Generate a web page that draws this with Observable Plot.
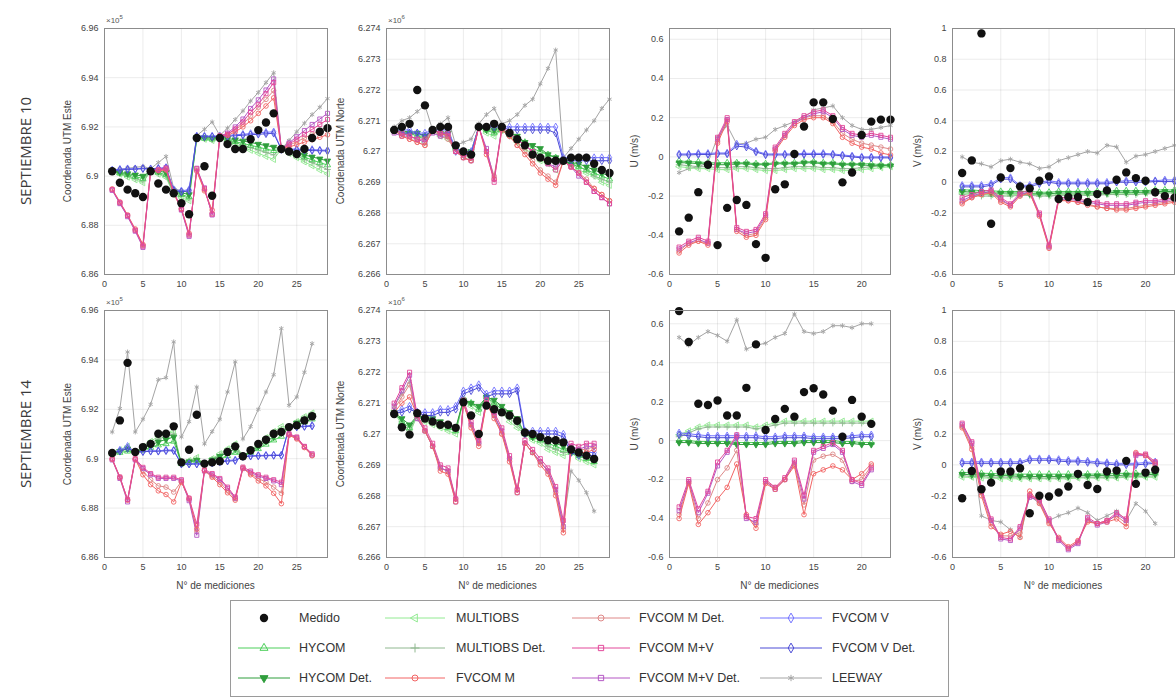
<!DOCTYPE html>
<html><head><meta charset="utf-8">
<script src="https://cdn.jsdelivr.net/npm/d3@7"></script>
<script src="https://cdn.jsdelivr.net/npm/@observablehq/plot@0.6"></script>
<style>
body{margin:0;background:#fff;font-family:"Liberation Sans",Arial,sans-serif;}
#root{position:relative;width:1176px;height:698px;overflow:hidden;background:#fff;}
.ylab{position:absolute;transform:translate(-50%,-50%) rotate(-90deg);white-space:nowrap;font-size:10px;color:#444;}
.xlab{position:absolute;transform:translate(-50%,-50%);white-space:nowrap;font-size:10px;color:#444;}
.rowlab{position:absolute;transform:translate(-50%,-50%) rotate(-90deg);white-space:nowrap;font-size:15px;color:#3a3a3a;font-family:"Open Sans",sans-serif;}
.exp{position:absolute;font-size:8px;color:#555;white-space:nowrap;}
.exp sup{font-size:6px;}
</style></head><body><div id="root"></div>
<script>
// ---------- series names ----------
const SERIES = ["Medido","HYCOM","HYCOM Det.","MULTIOBS","MULTIOBS Det.","FVCOM M","FVCOM M Det.","FVCOM M+V","FVCOM M+V Det.","FVCOM V","FVCOM V Det.","LEEWAY"];

// ---------- tick labels ----------
const tickEste = [6.86,6.88,6.9,6.92,6.94,6.96];
const tickNorte = [6.266,6.267,6.268,6.269,6.27,6.271,6.272,6.273,6.274];
const tickU = [-0.6,-0.4,-0.2,0,0.2,0.4,0.6];
const tickV = [-0.6,-0.4,-0.2,0,0.2,0.4,0.6,0.8,1];
const tickN29 = [0,5,10,15,20,25];
const tickN23 = [0,5,10,15,20];

// ---------- SEPTIEMBRE 10 : Este (x10^5) ----------
const este10Medido = [6.902,6.8973,6.8945,6.893,6.8915,6.902,6.897,6.8945,6.893,6.889,6.8845,6.9155,6.904,6.892,6.9155,6.913,6.911,6.911,6.915,6.9187,6.9218,6.9255,6.911,6.91,6.909,6.911,6.9155,6.918,6.9195];
const este10Hycom = [6.902,6.9012,6.9005,6.8998,6.899,6.902,6.9015,6.9005,6.8935,6.8925,6.8915,6.9155,6.9153,6.915,6.9155,6.9148,6.914,6.9133,6.9125,6.9118,6.911,6.9103,6.911,6.9098,6.9088,6.9077,6.9066,6.9055,6.9045];
const este10HycomDet = [6.902,6.9015,6.901,6.9005,6.9,6.902,6.902,6.9015,6.894,6.8932,6.8925,6.9158,6.9157,6.9155,6.9158,6.9153,6.9148,6.9143,6.9137,6.913,6.9124,6.9118,6.911,6.9102,6.9094,6.9086,6.9078,6.907,6.9062];
const este10Multi = [6.902,6.9008,6.8996,6.8985,6.8973,6.902,6.9008,6.8995,6.8925,6.8912,6.89,6.9155,6.915,6.9145,6.9155,6.9143,6.913,6.9118,6.9105,6.9093,6.908,6.9068,6.911,6.9092,6.9075,6.9058,6.9042,6.9025,6.901];
const este10MultiDet = [6.902,6.901,6.9,6.899,6.898,6.902,6.901,6.9,6.893,6.892,6.891,6.9155,6.9152,6.9148,6.9155,6.9146,6.9136,6.9126,6.9116,6.9106,6.9096,6.9086,6.911,6.9096,6.9082,6.9068,6.9055,6.9041,6.9027];
const este10M = [6.8948,6.8895,6.8842,6.8785,6.8722,6.902,6.9022,6.9025,6.8928,6.8868,6.8768,6.902,6.894,6.8862,6.9163,6.9165,6.918,6.92,6.9225,6.9255,6.9285,6.9318,6.911,6.9118,6.9128,6.9138,6.9148,6.9158,6.9168];
const este10MDet = [6.8945,6.889,6.8838,6.878,6.8718,6.902,6.9024,6.9028,6.8932,6.8865,6.8762,6.9025,6.8945,6.8848,6.9163,6.917,6.9188,6.921,6.9245,6.928,6.9312,6.9348,6.911,6.9125,6.914,6.9155,6.917,6.9185,6.92];
const este10MV = [6.8945,6.8892,6.884,6.878,6.8715,6.902,6.9025,6.903,6.8935,6.8865,6.876,6.903,6.895,6.8845,6.9163,6.917,6.9192,6.922,6.926,6.929,6.9335,6.938,6.911,6.913,6.915,6.917,6.919,6.921,6.923];
const este10MVDet = [6.8942,6.8888,6.8835,6.8776,6.871,6.902,6.9028,6.9035,6.8938,6.8862,6.8755,6.9032,6.8952,6.8842,6.9163,6.9175,6.92,6.9232,6.9275,6.931,6.935,6.9395,6.911,6.9135,6.916,6.9185,6.921,6.9232,6.9255];
const este10V = [6.9025,6.9028,6.903,6.903,6.9032,6.903,6.9032,6.9035,6.8945,6.894,6.8945,6.9163,6.9163,6.9163,6.9163,6.9165,6.9168,6.917,6.9173,6.9176,6.9178,6.918,6.911,6.911,6.911,6.9108,6.9108,6.9106,6.9105];
const este10VDet = [6.9022,6.9025,6.9027,6.9028,6.903,6.9028,6.903,6.9032,6.8942,6.8936,6.894,6.9161,6.916,6.916,6.9161,6.9162,6.9164,6.9166,6.9168,6.917,6.9172,6.9174,6.9108,6.9107,6.9106,6.9105,6.9104,6.9103,6.9102];
const este10Leeway = [6.9025,6.9028,6.9032,6.9035,6.904,6.903,6.9055,6.908,6.895,6.894,6.8935,6.9165,6.919,6.922,6.9165,6.9195,6.923,6.9265,6.9305,6.934,6.938,6.942,6.911,6.9145,6.918,6.9215,6.925,6.928,6.9315];

// ---------- SEPTIEMBRE 10 : Norte (x10^6) ----------
const norte10Medido = [6.2707,6.2708,6.2709,6.272,6.2715,6.2707,6.2708,6.2708,6.2702,6.27,6.2699,6.2708,6.2708,6.2709,6.2708,6.2706,6.2704,6.2702,6.2699,6.2698,6.2697,6.2697,6.2697,6.2698,6.2698,6.2698,6.2696,6.2694,6.2693];
const norte10Hycom = [6.2707,6.2706,6.2706,6.2705,6.2705,6.2707,6.2706,6.2705,6.2701,6.27,6.2699,6.2708,6.2707,6.2706,6.2707,6.2706,6.2704,6.2703,6.2701,6.27,6.2699,6.2698,6.2697,6.2696,6.2695,6.2694,6.2693,6.2692,6.2691];
const norte10HycomDet = [6.2707,6.2707,6.2706,6.2706,6.2705,6.2707,6.2706,6.2706,6.2701,6.27,6.27,6.2708,6.2707,6.2707,6.2707,6.2706,6.2705,6.2703,6.2702,6.2701,6.2699,6.2698,6.2697,6.2696,6.2696,6.2695,6.2694,6.2693,6.2692];
const norte10Multi = [6.2707,6.2706,6.2705,6.2704,6.2703,6.2707,6.2705,6.2704,6.2701,6.2699,6.2698,6.2708,6.2706,6.2705,6.2707,6.2705,6.2703,6.2701,6.2699,6.2697,6.2696,6.2694,6.2697,6.2696,6.2694,6.2693,6.2692,6.269,6.2689];
const norte10MultiDet = [6.2707,6.2706,6.2706,6.2705,6.2704,6.2707,6.2706,6.2705,6.2701,6.27,6.2699,6.2708,6.2707,6.2706,6.2707,6.2705,6.2704,6.2702,6.27,6.2698,6.2697,6.2696,6.2697,6.2696,6.2695,6.2694,6.2692,6.2691,6.269];
const norte10M = [6.2707,6.2705,6.2704,6.2703,6.2702,6.2707,6.2706,6.2705,6.27,6.2698,6.2697,6.2708,6.2699,6.2691,6.2707,6.2705,6.2702,6.2699,6.2696,6.2693,6.2691,6.2689,6.2697,6.2695,6.2693,6.269,6.2688,6.2686,6.2684];
const norte10MDet = [6.2707,6.2705,6.2704,6.2703,6.2702,6.2707,6.2705,6.2704,6.27,6.2698,6.2697,6.2708,6.27,6.2692,6.2707,6.2705,6.2702,6.27,6.2697,6.2694,6.2692,6.269,6.2697,6.2695,6.2693,6.2691,6.2688,6.2686,6.2684];
const norte10MV = [6.2707,6.2706,6.2705,6.2704,6.2704,6.2707,6.2706,6.2706,6.27,6.2699,6.2698,6.2708,6.27,6.269,6.2708,6.2706,6.2704,6.2702,6.27,6.2698,6.2696,6.2694,6.2697,6.2695,6.2693,6.269,6.2687,6.2685,6.2683];
const norte10MVDet = [6.2706,6.2705,6.2705,6.2704,6.2703,6.2706,6.2705,6.2705,6.27,6.2698,6.2697,6.2708,6.2701,6.2691,6.2708,6.2706,6.2704,6.2702,6.27,6.2698,6.2696,6.2695,6.2697,6.2695,6.2692,6.269,6.2687,6.2685,6.2683];
const norte10V = [6.2707,6.2707,6.2707,6.2706,6.2706,6.2707,6.2707,6.2707,6.2701,6.27,6.27,6.2708,6.2708,6.2709,6.2708,6.2708,6.2708,6.2708,6.2708,6.2708,6.2708,6.2708,6.2698,6.2698,6.2698,6.2698,6.2698,6.2698,6.2698];
const norte10VDet = [6.2707,6.2706,6.2706,6.2706,6.2705,6.2707,6.2706,6.2706,6.27,6.2699,6.2699,6.2708,6.2708,6.2708,6.2708,6.2707,6.2707,6.2707,6.2707,6.2707,6.2707,6.2706,6.2697,6.2697,6.2697,6.2697,6.2697,6.2697,6.2697];
const norte10Leeway = [6.2708,6.271,6.2711,6.2713,6.2715,6.2707,6.2709,6.2711,6.2702,6.2703,6.2704,6.2709,6.2712,6.2714,6.2709,6.271,6.2712,6.2715,6.2717,6.2722,6.2727,6.2733,6.2698,6.2701,6.2704,6.2707,6.271,6.2714,6.2717];

// ---------- SEPTIEMBRE 10 : U (m/s) ----------
const u10Medido = [-0.38,-0.31,-0.18,-0.04,-0.45,-0.26,-0.22,-0.245,-0.445,-0.515,-0.165,-0.14,0.015,0.155,0.278,0.278,0.193,-0.13,-0.08,0.112,0.18,0.19,0.19];
const u10Hycom = [-0.02,-0.025,-0.025,-0.03,-0.03,-0.03,-0.03,-0.03,-0.035,-0.035,-0.03,-0.03,-0.03,-0.025,-0.025,-0.03,-0.03,-0.035,-0.035,-0.035,-0.035,-0.04,-0.04];
const u10HycomDet = [-0.03,-0.03,-0.035,-0.035,-0.04,-0.04,-0.035,-0.035,-0.04,-0.04,-0.035,-0.035,-0.035,-0.03,-0.03,-0.035,-0.035,-0.04,-0.04,-0.04,-0.045,-0.045,-0.045];
const u10Multi = [-0.05,-0.055,-0.06,-0.06,-0.065,-0.065,-0.06,-0.06,-0.065,-0.07,-0.07,-0.065,-0.06,-0.06,-0.06,-0.065,-0.065,-0.07,-0.07,-0.065,-0.06,-0.055,-0.05];
const u10MultiDet = [-0.04,-0.045,-0.05,-0.05,-0.055,-0.055,-0.05,-0.05,-0.055,-0.06,-0.06,-0.055,-0.05,-0.05,-0.05,-0.055,-0.055,-0.06,-0.06,-0.055,-0.05,-0.045,-0.04];
const u10M = [-0.49,-0.45,-0.43,-0.45,0.07,0.18,-0.38,-0.41,-0.4,-0.32,0.03,0.1,0.16,0.19,0.2,0.2,0.17,0.1,0.07,0.05,0.04,0.02,0.01];
const u10MDet = [-0.48,-0.44,-0.43,-0.44,0.08,0.19,-0.37,-0.4,-0.39,-0.31,0.04,0.11,0.17,0.2,0.21,0.21,0.18,0.12,0.09,0.07,0.06,0.05,0.04];
const u10MV = [-0.46,-0.43,-0.41,-0.43,0.1,0.2,-0.36,-0.38,-0.37,-0.29,0.05,0.12,0.18,0.21,0.23,0.24,0.21,0.15,0.12,0.11,0.12,0.11,0.1];
const u10MVDet = [-0.47,-0.44,-0.42,-0.44,0.09,0.19,-0.37,-0.39,-0.38,-0.3,0.04,0.11,0.17,0.2,0.22,0.23,0.2,0.14,0.11,0.1,0.11,0.1,0.09];
const u10V = [0.015,0.015,0.018,0.018,0.02,0.02,0.065,0.06,0.03,0.015,0.015,0.015,0.015,0.018,0.018,0.018,0.015,0.01,0.005,0,0,0,0];
const u10VDet = [0.01,0.01,0.012,0.012,0.015,0.015,0.055,0.05,0.025,0.01,0.01,0.01,0.01,0.012,0.012,0.012,0.01,0.005,0,-0.005,-0.005,-0.005,-0.005];
const u10Leeway = [-0.08,-0.06,-0.05,-0.03,0.1,0.16,0.065,0.07,0.09,0.1,0.14,0.16,0.18,0.2,0.24,0.25,0.26,0.2,0.16,0.14,0.14,0.15,0.16];

// ---------- SEPTIEMBRE 10 : V (m/s) ----------
const v10Medido = [0.06,0.142,0.968,-0.27,0.031,0.092,-0.027,-0.04,0.01,0.038,-0.109,-0.096,-0.096,-0.129,-0.077,-0.053,0.016,0.064,0.027,0.01,-0.065,-0.09,-0.1];
const v10Hycom = [-0.05,-0.05,-0.055,-0.055,-0.06,-0.06,-0.06,-0.06,-0.065,-0.065,-0.06,-0.06,-0.06,-0.06,-0.06,-0.06,-0.055,-0.055,-0.055,-0.055,-0.05,-0.05,-0.05];
const v10HycomDet = [-0.06,-0.065,-0.065,-0.07,-0.07,-0.07,-0.07,-0.075,-0.075,-0.075,-0.07,-0.07,-0.07,-0.07,-0.07,-0.07,-0.065,-0.065,-0.065,-0.065,-0.06,-0.06,-0.06];
const v10Multi = [-0.07,-0.075,-0.08,-0.08,-0.085,-0.08,-0.08,-0.08,-0.08,-0.085,-0.08,-0.08,-0.08,-0.08,-0.08,-0.075,-0.075,-0.075,-0.07,-0.07,-0.07,-0.065,-0.065];
const v10MultiDet = [-0.08,-0.085,-0.09,-0.09,-0.09,-0.09,-0.085,-0.085,-0.09,-0.09,-0.085,-0.085,-0.085,-0.085,-0.085,-0.08,-0.08,-0.08,-0.08,-0.075,-0.075,-0.07,-0.07];
const v10M = [-0.14,-0.1,-0.08,-0.07,-0.13,-0.16,-0.09,-0.07,-0.22,-0.43,-0.12,-0.12,-0.13,-0.15,-0.16,-0.17,-0.18,-0.18,-0.17,-0.16,-0.15,-0.14,-0.13];
const v10MDet = [-0.13,-0.1,-0.08,-0.06,-0.12,-0.15,-0.08,-0.07,-0.21,-0.42,-0.11,-0.12,-0.13,-0.14,-0.16,-0.17,-0.17,-0.17,-0.16,-0.15,-0.14,-0.13,-0.12];
const v10MV = [-0.1,-0.08,-0.06,-0.05,-0.1,-0.14,-0.07,-0.05,-0.2,-0.41,-0.1,-0.1,-0.11,-0.12,-0.13,-0.14,-0.14,-0.14,-0.13,-0.12,-0.12,-0.11,-0.1];
const v10MVDet = [-0.12,-0.09,-0.07,-0.06,-0.11,-0.15,-0.08,-0.06,-0.21,-0.42,-0.11,-0.11,-0.12,-0.13,-0.14,-0.15,-0.15,-0.15,-0.14,-0.13,-0.13,-0.12,-0.11];
const v10V = [-0.02,-0.02,-0.02,-0.01,0.03,0.03,-0.02,-0.02,0,0.01,0,0,0,0,0,0,0.005,0.01,0.01,0.01,0.01,0.015,0.015];
const v10VDet = [-0.03,-0.03,-0.03,-0.02,0.02,0.02,-0.03,-0.03,-0.01,0,-0.01,-0.01,-0.01,-0.01,-0.01,-0.01,0,0,0,0,0.005,0.005,0.005];
const v10Leeway = [0.165,0.13,0.12,0.1,0.14,0.15,0.13,0.12,0.09,0.1,0.14,0.16,0.18,0.2,0.19,0.24,0.23,0.13,0.17,0.18,0.2,0.22,0.24];

// ---------- SEPTIEMBRE 14 : Este (x10^5) ----------
const este14Medido = [6.9023,6.9155,6.9388,6.9027,6.9047,6.906,6.9101,6.9101,6.9131,6.8985,6.9036,6.9178,6.898,6.8985,6.899,6.9027,6.905,6.901,6.9034,6.906,6.9077,6.9101,6.9108,6.9128,6.9135,6.9155,6.9172];
const este14Hycom = [6.902,6.9025,6.903,6.9027,6.9035,6.9045,6.9055,6.906,6.907,6.898,6.8985,6.899,6.898,6.899,6.9,6.9012,6.9025,6.901,6.9025,6.904,6.9058,6.9075,6.909,6.9128,6.9138,6.9148,6.916];
const este14HycomDet = [6.902,6.903,6.904,6.9027,6.904,6.9055,6.9068,6.9078,6.9088,6.8982,6.8988,6.8994,6.898,6.8995,6.901,6.9025,6.904,6.901,6.903,6.905,6.907,6.9088,6.9105,6.9128,6.9145,6.916,6.9175];
const este14Multi = [6.902,6.9035,6.905,6.9027,6.905,6.907,6.909,6.91,6.911,6.898,6.8992,6.9005,6.898,6.9,6.902,6.904,6.906,6.901,6.9035,6.906,6.9085,6.911,6.913,6.9128,6.915,6.917,6.9185];
const este14MultiDet = [6.902,6.903,6.9042,6.9027,6.9045,6.9062,6.908,6.909,6.91,6.898,6.899,6.9,6.898,6.8997,6.9015,6.9032,6.905,6.901,6.9032,6.9055,6.9078,6.91,6.912,6.9128,6.9148,6.9165,6.918];
const este14M = [6.8998,6.8924,6.8832,6.8998,6.8935,6.8895,6.887,6.8855,6.8825,6.8905,6.884,6.8715,6.8952,6.8925,6.8895,6.8862,6.8832,6.8962,6.8935,6.891,6.889,6.886,6.8818,6.9095,6.908,6.9045,6.9012];
const este14MDet = [6.8998,6.8925,6.8834,6.8998,6.895,6.8915,6.889,6.8885,6.8865,6.8908,6.8835,6.8705,6.8953,6.893,6.8905,6.887,6.8838,6.8963,6.894,6.892,6.8905,6.8885,6.886,6.9097,6.9083,6.9048,6.9015];
const este14MV = [6.9,6.8926,6.8835,6.9,6.8965,6.894,6.8925,6.8925,6.8925,6.8915,6.884,6.8735,6.8955,6.894,6.892,6.8885,6.8845,6.8966,6.895,6.8935,6.8925,6.8915,6.8905,6.9101,6.9088,6.905,6.902];
const este14MVDet = [6.8995,6.892,6.8825,6.8995,6.896,6.8935,6.892,6.892,6.892,6.891,6.883,6.869,6.895,6.8935,6.8915,6.888,6.884,6.896,6.8945,6.893,6.892,6.891,6.8895,6.9098,6.9085,6.9048,6.9015];
const este14V = [6.9023,6.9035,6.905,6.9027,6.903,6.9032,6.9032,6.9035,6.9035,6.898,6.898,6.898,6.898,6.8985,6.899,6.8993,6.8995,6.901,6.9012,6.9013,6.9014,6.9015,6.9015,6.9128,6.913,6.9132,6.9135];
const este14VDet = [6.9023,6.903,6.9042,6.9027,6.9028,6.903,6.903,6.9032,6.9032,6.8978,6.8978,6.8978,6.8978,6.8982,6.8986,6.899,6.8992,6.9008,6.901,6.9011,6.9012,6.9013,6.9013,6.9126,6.9128,6.913,6.9132];
const este14Leeway = [6.9108,6.9203,6.9432,6.9108,6.916,6.922,6.932,6.9328,6.9473,6.9088,6.915,6.929,6.906,6.911,6.916,6.927,6.9392,6.908,6.913,6.92,6.927,6.934,6.9527,6.9216,6.925,6.935,6.9466];

// ---------- SEPTIEMBRE 14 : Norte (x10^6) ----------
const norte14Medido = [6.27065,6.27022,6.26998,6.27067,6.2705,6.2704,6.2703,6.2703,6.2702,6.27103,6.2706,6.27,6.27092,6.2708,6.2707,6.2706,6.27043,6.27005,6.27,6.2699,6.2698,6.2698,6.26973,6.2695,6.2694,6.2693,6.26919];
const norte14Hycom = [6.2707,6.2704,6.2702,6.2706,6.2705,6.2704,6.2703,6.2702,6.2701,6.2711,6.271,6.2708,6.2712,6.271,6.2708,6.2706,6.2704,6.27,6.2699,6.2698,6.2697,6.2696,6.2695,6.2694,6.2693,6.2692,6.2691];
const norte14HycomDet = [6.2707,6.2705,6.2703,6.2706,6.2705,6.2705,6.2704,6.2703,6.2702,6.2711,6.271,6.2709,6.2712,6.2711,6.2709,6.2707,6.2705,6.27,6.2699,6.2699,6.2698,6.2697,6.2696,6.2694,6.2694,6.2693,6.2692];
const norte14Multi = [6.2707,6.2703,6.27,6.2706,6.2704,6.2703,6.2702,6.2701,6.27,6.2711,6.2709,6.2707,6.2712,6.2709,6.2707,6.2704,6.2702,6.27,6.2698,6.2697,6.2695,6.2694,6.2693,6.2694,6.2692,6.2691,6.269];
const norte14MultiDet = [6.2707,6.2704,6.2701,6.2706,6.2705,6.2704,6.2703,6.2702,6.2701,6.2711,6.271,6.2708,6.2712,6.271,6.2708,6.2705,6.2703,6.27,6.2699,6.2698,6.2696,6.2695,6.2694,6.2694,6.2693,6.2692,6.2691];
const norte14M = [6.2707,6.271,6.2712,6.2706,6.2701,6.2696,6.2688,6.2687,6.2678,6.271,6.2702,6.2696,6.271,6.2705,6.27,6.2691,6.2681,6.2697,6.2694,6.269,6.2687,6.268,6.2668,6.2695,6.2694,6.2694,6.2695];
const norte14MDet = [6.2708,6.2712,6.2716,6.2705,6.2701,6.2696,6.2689,6.2688,6.2679,6.271,6.2703,6.2697,6.271,6.2706,6.27,6.2692,6.2682,6.2697,6.2694,6.2691,6.2688,6.2681,6.2669,6.2696,6.2695,6.2695,6.2696];
const norte14MV = [6.271,6.2715,6.272,6.2706,6.2702,6.2697,6.269,6.2689,6.2679,6.2711,6.2704,6.2698,6.2711,6.2707,6.2702,6.2693,6.2682,6.2698,6.2695,6.2692,6.2689,6.2683,6.2672,6.2697,6.2696,6.2697,6.2697];
const norte14MVDet = [6.2709,6.2714,6.2719,6.2705,6.2701,6.2696,6.2689,6.2688,6.2678,6.271,6.2703,6.2697,6.2711,6.2706,6.2701,6.2692,6.2681,6.2697,6.2694,6.2691,6.2688,6.2682,6.267,6.2696,6.2695,6.2696,6.2696];
const norte14V = [6.2707,6.2708,6.2709,6.2707,6.2707,6.2707,6.2708,6.2708,6.2709,6.2714,6.2715,6.2716,6.2713,6.2714,6.2714,6.2714,6.2715,6.2701,6.2701,6.2701,6.2701,6.2701,6.27,6.2695,6.2694,6.2694,6.2694];
const norte14VDet = [6.2707,6.2707,6.2708,6.2707,6.2706,6.2706,6.2707,6.2707,6.2708,6.2713,6.2714,6.2715,6.2712,6.2713,6.2713,6.2713,6.2714,6.27,6.27,6.27,6.27,6.27,6.2699,6.2694,6.2693,6.2693,6.2693];
const norte14Leeway = [6.2709,6.2713,6.2717,6.2705,6.2701,6.2696,6.2689,6.2688,6.2679,6.271,6.2703,6.2697,6.2711,6.2706,6.2701,6.2692,6.2682,6.2697,6.2694,6.2691,6.2688,6.2682,6.2671,6.2688,6.2685,6.2681,6.2675];

// ---------- SEPTIEMBRE 14 : U (m/s) ----------
const u14Medido = [0.665,0.506,0.189,0.183,0.206,0.129,0.129,0.271,0.494,0.055,0.111,0.163,0.123,0.249,0.269,0.237,0.154,0.02,0.209,0.123,0.086];
const u14Hycom = [0,0,-0.005,-0.005,-0.005,-0.005,-0.01,-0.01,-0.01,-0.01,-0.005,-0.005,-0.005,0,0,0,0,-0.005,-0.005,-0.01,-0.01];
const u14HycomDet = [-0.01,-0.01,-0.015,-0.015,-0.015,-0.015,-0.02,-0.02,-0.02,-0.02,-0.015,-0.015,-0.015,-0.01,-0.01,-0.01,-0.01,-0.015,-0.015,-0.02,-0.02];
const u14Multi = [0.03,0.05,0.07,0.08,0.08,0.08,0.08,0.08,0.07,0.08,0.09,0.1,0.1,0.1,0.1,0.1,0.1,0.1,0.1,0.1,0.1];
const u14MultiDet = [0.02,0.04,0.06,0.07,0.07,0.07,0.07,0.07,0.06,0.07,0.08,0.09,0.09,0.09,0.09,0.09,0.09,0.09,0.09,0.09,0.09];
const u14M = [-0.4,-0.22,-0.43,-0.37,-0.3,-0.24,-0.12,-0.38,-0.45,-0.22,-0.25,-0.2,-0.13,-0.38,-0.17,-0.15,-0.13,-0.15,-0.2,-0.17,-0.12];
const u14MDet = [-0.38,-0.21,-0.4,-0.32,-0.2,-0.14,-0.05,-0.39,-0.43,-0.21,-0.24,-0.2,-0.12,-0.33,-0.1,-0.08,-0.07,-0.1,-0.21,-0.2,-0.13];
const u14MV = [-0.34,-0.2,-0.35,-0.26,-0.11,-0.05,0.03,-0.39,-0.4,-0.2,-0.24,-0.19,-0.1,-0.28,-0.05,-0.03,-0.01,-0.05,-0.2,-0.22,-0.14];
const u14MVDet = [-0.36,-0.21,-0.37,-0.27,-0.13,-0.06,0.02,-0.4,-0.42,-0.21,-0.25,-0.2,-0.11,-0.3,-0.06,-0.04,-0.02,-0.06,-0.21,-0.23,-0.15];
const u14V = [0.04,0.035,0.03,0.025,0.025,0.025,0.025,0.025,0.025,0.02,0.02,0.025,0.025,0.025,0.02,0.02,0.02,0.02,0.025,0.03,0.03];
const u14VDet = [0.03,0.025,0.02,0.015,0.015,0.015,0.015,0.015,0.015,0.01,0.01,0.015,0.015,0.015,0.01,0.01,0.01,0.01,0.015,0.02,0.02];
const u14Leeway = [0.53,0.49,0.53,0.56,0.54,0.51,0.62,0.47,0.49,0.5,0.53,0.55,0.65,0.56,0.55,0.56,0.59,0.59,0.58,0.6,0.6];

// ---------- SEPTIEMBRE 14 : V (m/s) ----------
const v14Medido = [-0.216,-0.04,-0.158,-0.115,-0.043,-0.043,-0.022,-0.313,-0.2,-0.205,-0.179,-0.14,-0.058,-0.13,-0.156,-0.043,-0.037,0.026,-0.123,-0.05,-0.032];
const v14Hycom = [-0.05,-0.05,-0.055,-0.055,-0.06,-0.06,-0.06,-0.06,-0.06,-0.06,-0.06,-0.06,-0.06,-0.06,-0.06,-0.06,-0.055,-0.055,-0.055,-0.055,-0.05];
const v14HycomDet = [-0.06,-0.065,-0.065,-0.07,-0.07,-0.07,-0.075,-0.075,-0.075,-0.075,-0.075,-0.075,-0.07,-0.07,-0.07,-0.07,-0.07,-0.065,-0.065,-0.065,-0.06];
const v14Multi = [-0.08,-0.08,-0.085,-0.085,-0.09,-0.09,-0.09,-0.09,-0.09,-0.09,-0.09,-0.09,-0.085,-0.085,-0.085,-0.085,-0.085,-0.08,-0.08,-0.08,-0.08];
const v14MultiDet = [-0.07,-0.075,-0.075,-0.08,-0.08,-0.08,-0.08,-0.085,-0.085,-0.085,-0.085,-0.08,-0.08,-0.08,-0.08,-0.08,-0.08,-0.075,-0.075,-0.075,-0.07];
const v14M = [0.24,0.1,-0.2,-0.4,-0.45,-0.43,-0.47,-0.17,-0.25,-0.38,-0.47,-0.53,-0.49,-0.37,-0.38,-0.37,-0.35,-0.4,0.08,0.06,0];
const v14MDet = [0.25,0.12,-0.18,-0.38,-0.46,-0.46,-0.44,-0.19,-0.24,-0.37,-0.48,-0.54,-0.5,-0.36,-0.38,-0.36,-0.33,-0.38,0.07,0.065,0.01];
const v14MV = [0.27,0.15,-0.15,-0.35,-0.47,-0.48,-0.4,-0.2,-0.22,-0.35,-0.48,-0.54,-0.5,-0.34,-0.38,-0.36,-0.31,-0.35,0.07,0.07,0.02];
const v14MVDet = [0.26,0.14,-0.17,-0.36,-0.48,-0.49,-0.41,-0.21,-0.23,-0.36,-0.49,-0.55,-0.51,-0.35,-0.39,-0.37,-0.32,-0.36,0.06,0.06,0.01];
const v14V = [0.02,0.02,0.02,0.02,0.02,0.02,0.02,0.04,0.04,0.04,0.035,0.03,0.03,0.025,0.02,0.015,0.01,0.01,0.01,0.015,0.02];
const v14VDet = [0.01,0.01,0.01,0.01,0.01,0.01,0.01,0.03,0.03,0.03,0.025,0.02,0.02,0.015,0.01,0.005,0,0,0,0.005,0.01];
const v14Leeway = [0.25,0.12,-0.33,-0.36,-0.37,-0.42,-0.47,-0.2,-0.25,-0.36,-0.33,-0.31,-0.28,-0.31,-0.36,-0.33,-0.3,-0.36,-0.25,-0.3,-0.38];

// ---------- styles ----------
const STYLE = {
  "HYCOM":          {c:"#4ccf5a", sym:"triangle", rot:0,   fill:false},
  "HYCOM Det.":     {c:"#2f9e3c", sym:"triangle", rot:180, fill:true},
  "MULTIOBS":       {c:"#92ea92", sym:"triangle", rot:-90, fill:false},
  "MULTIOBS Det.":  {c:"#90b890", sym:"plus",     rot:0,   fill:false},
  "FVCOM M":        {c:"#f26464", sym:"circle",   rot:0,   fill:false},
  "FVCOM M Det.":   {c:"#de8888", sym:"circle",   rot:0,   fill:false},
  "FVCOM M+V":      {c:"#e2489a", sym:"square",   rot:0,   fill:false},
  "FVCOM M+V Det.": {c:"#b457c4", sym:"square",   rot:0,   fill:false},
  "FVCOM V":        {c:"#7474ff", sym:"diamond",  rot:0,   fill:false},
  "FVCOM V Det.":   {c:"#4c4cd6", sym:"diamond",  rot:0,   fill:false},
  "LEEWAY":         {c:"#a4a4a4", sym:"asterisk", rot:0,   fill:false}
};
const DRAW_ORDER = ["LEEWAY","MULTIOBS","MULTIOBS Det.","HYCOM","HYCOM Det.","FVCOM V","FVCOM V Det.","FVCOM M Det.","FVCOM M+V Det.","FVCOM M","FVCOM M+V"];

const fmt = d => String(+(+d).toFixed(4));
const FONT = '"Liberation Sans", Arial, sans-serif';

const COLS = [{l:104,r:327},{l:386,r:609},{l:669,r:890},{l:952,r:1174}];
const ROWS = [{t:28,b:274},{t:310,b:557}];

function tbl(arr){ return arr.map((v,i)=>({n:i+1, v})); }

const panels = [
  {row:0,col:0,x:[0,29],xt:tickN29,y:[6.86,6.96],yt:tickEste,
   s:{"Medido":este10Medido,"HYCOM":este10Hycom,"HYCOM Det.":este10HycomDet,"MULTIOBS":este10Multi,"MULTIOBS Det.":este10MultiDet,"FVCOM M":este10M,"FVCOM M Det.":este10MDet,"FVCOM M+V":este10MV,"FVCOM M+V Det.":este10MVDet,"FVCOM V":este10V,"FVCOM V Det.":este10VDet,"LEEWAY":este10Leeway}},
  {row:0,col:1,x:[0,29],xt:tickN29,y:[6.266,6.274],yt:tickNorte,
   s:{"Medido":norte10Medido,"HYCOM":norte10Hycom,"HYCOM Det.":norte10HycomDet,"MULTIOBS":norte10Multi,"MULTIOBS Det.":norte10MultiDet,"FVCOM M":norte10M,"FVCOM M Det.":norte10MDet,"FVCOM M+V":norte10MV,"FVCOM M+V Det.":norte10MVDet,"FVCOM V":norte10V,"FVCOM V Det.":norte10VDet,"LEEWAY":norte10Leeway}},
  {row:0,col:2,x:[0,23],xt:tickN23,y:[-0.6,0.655],yt:tickU,
   s:{"Medido":u10Medido,"HYCOM":u10Hycom,"HYCOM Det.":u10HycomDet,"MULTIOBS":u10Multi,"MULTIOBS Det.":u10MultiDet,"FVCOM M":u10M,"FVCOM M Det.":u10MDet,"FVCOM M+V":u10MV,"FVCOM M+V Det.":u10MVDet,"FVCOM V":u10V,"FVCOM V Det.":u10VDet,"LEEWAY":u10Leeway}},
  {row:0,col:3,x:[0,23],xt:tickN23,y:[-0.6,1],yt:tickV,
   s:{"Medido":v10Medido,"HYCOM":v10Hycom,"HYCOM Det.":v10HycomDet,"MULTIOBS":v10Multi,"MULTIOBS Det.":v10MultiDet,"FVCOM M":v10M,"FVCOM M Det.":v10MDet,"FVCOM M+V":v10MV,"FVCOM M+V Det.":v10MVDet,"FVCOM V":v10V,"FVCOM V Det.":v10VDet,"LEEWAY":v10Leeway}},
  {row:1,col:0,x:[0,29],xt:tickN29,y:[6.86,6.96],yt:tickEste,
   s:{"Medido":este14Medido,"HYCOM":este14Hycom,"HYCOM Det.":este14HycomDet,"MULTIOBS":este14Multi,"MULTIOBS Det.":este14MultiDet,"FVCOM M":este14M,"FVCOM M Det.":este14MDet,"FVCOM M+V":este14MV,"FVCOM M+V Det.":este14MVDet,"FVCOM V":este14V,"FVCOM V Det.":este14VDet,"LEEWAY":este14Leeway}},
  {row:1,col:1,x:[0,29],xt:tickN29,y:[6.266,6.274],yt:tickNorte,
   s:{"Medido":norte14Medido,"HYCOM":norte14Hycom,"HYCOM Det.":norte14HycomDet,"MULTIOBS":norte14Multi,"MULTIOBS Det.":norte14MultiDet,"FVCOM M":norte14M,"FVCOM M Det.":norte14MDet,"FVCOM M+V":norte14MV,"FVCOM M+V Det.":norte14MVDet,"FVCOM V":norte14V,"FVCOM V Det.":norte14VDet,"LEEWAY":norte14Leeway}},
  {row:1,col:2,x:[0,23],xt:tickN23,y:[-0.6,0.668],yt:tickU,
   s:{"Medido":u14Medido,"HYCOM":u14Hycom,"HYCOM Det.":u14HycomDet,"MULTIOBS":u14Multi,"MULTIOBS Det.":u14MultiDet,"FVCOM M":u14M,"FVCOM M Det.":u14MDet,"FVCOM M+V":u14MV,"FVCOM M+V Det.":u14MVDet,"FVCOM V":u14V,"FVCOM V Det.":u14VDet,"LEEWAY":u14Leeway}},
  {row:1,col:3,x:[0,23],xt:tickN23,y:[-0.6,1],yt:tickV,
   s:{"Medido":v14Medido,"HYCOM":v14Hycom,"HYCOM Det.":v14HycomDet,"MULTIOBS":v14Multi,"MULTIOBS Det.":v14MultiDet,"FVCOM M":v14M,"FVCOM M Det.":v14MDet,"FVCOM M+V":v14MV,"FVCOM M+V Det.":v14MVDet,"FVCOM V":v14V,"FVCOM V Det.":v14VDet,"LEEWAY":v14Leeway}}
];

const root = document.getElementById("root");
const ML=42, MR=4, MT=6, MB=24;

for (const p of panels) {
  const C = COLS[p.col], R = ROWS[p.row];
  const marks = [];
  for (const name of DRAW_ORDER) {
    const st = STYLE[name], d = tbl(p.s[name]);
    marks.push(Plot.line(d, {x:"n", y:"v", stroke:st.c, strokeWidth:1}));
    marks.push(Plot.dot(d, {x:"n", y:"v", symbol:st.sym, r:2.3, rotate:st.rot,
      stroke:st.c, strokeWidth:0.9, fill: st.fill ? st.c : "none"}));
  }
  marks.push(Plot.dot(tbl(p.s["Medido"]), {x:"n", y:"v", r:4.2, fill:"#111", stroke:"none"}));
  marks.push(Plot.frame({stroke:"#8c8c8c"}));
  const svg = Plot.plot({
    width: C.r - C.l + ML + MR, height: R.b - R.t + MT + MB,
    marginLeft: ML, marginRight: MR, marginTop: MT, marginBottom: MB,
    style: {fontFamily: FONT, fontSize: "9px", color: "#444", background: "transparent", overflow: "visible"},
    x: {domain: p.x, ticks: p.xt, tickFormat: fmt, tickSize: 0, tickPadding: 6, grid: true, label: null},
    y: {domain: p.y, ticks: p.yt, tickFormat: fmt, tickSize: 0, tickPadding: 6, grid: true, label: null},
    marks
  });
  svg.style.position = "absolute";
  svg.style.left = (C.l - ML) + "px";
  svg.style.top = (R.t - MT) + "px";
  svg.style.maxWidth = "none";
  root.appendChild(svg);
}

// ---------- texts ----------
function addDiv(cls, html, x, y) {
  const d = document.createElement("div");
  d.className = cls; d.innerHTML = html;
  d.style.left = x + "px"; d.style.top = y + "px";
  root.appendChild(d);
}
const YLABELS = ["Coordenada UTM Este","Coordenada UTM Norte","U (m/s)","V (m/s)"];
const YLABX = [67, 340, 634, 917];
const ROWLABELS = ["SEPTIEMBRE 10","SEPTIEMBRE 14"];
ROWS.forEach((R, ri) => {
  const cy = (R.t + R.b) / 2;
  YLABELS.forEach((t, ci) => addDiv("ylab", t, YLABX[ci], cy));
  addDiv("rowlab", ROWLABELS[ri], 25, cy);
  addDiv("exp", "&times;10<sup>5</sup>", COLS[0].l + 2, R.t - 14);
  addDiv("exp", "&times;10<sup>6</sup>", COLS[1].l + 2, R.t - 14);
});
COLS.forEach(C => addDiv("xlab", "N° de mediciones", (C.l + C.r) / 2, 585));

// ---------- legend ----------
const LEG = [["Medido","HYCOM","HYCOM Det."],["MULTIOBS","MULTIOBS Det.","FVCOM M"],["FVCOM M Det.","FVCOM M+V","FVCOM M+V Det."],["FVCOM V","FVCOM V Det.","LEEWAY"]];
const LX = [{a:238,b:290,t:299},{a:385,b:445,t:456},{a:572,b:630,t:639},{a:760,b:822,t:832}];
const LY = [618,648,678];
const SYM = {triangle:d3.symbolTriangle, circle:d3.symbolCircle, square:d3.symbolSquare, diamond:d3.symbolDiamond, plus:d3.symbolPlus, asterisk:d3.symbolAsterisk};
const lg = d3.select(root).append("svg").attr("width",730).attr("height",100)
  .style("position","absolute").style("left","226px").style("top","598px");
const g = lg.append("g").attr("transform","translate(-226,-598)");
g.append("rect").attr("x",230.5).attr("y",600.5).attr("width",718).attr("height",96)
  .attr("fill","#fff").attr("stroke","#9a9a9a");
LEG.forEach((col, ci) => col.forEach((name, ri) => {
  const y = LY[ri], L = LX[ci], mx = (L.a + L.b) / 2;
  if (name === "Medido") {
    g.append("circle").attr("cx",mx).attr("cy",y).attr("r",4.2).attr("fill","#111");
  } else {
    const st = STYLE[name];
    g.append("line").attr("x1",L.a).attr("x2",L.b).attr("y1",y).attr("y2",y).attr("stroke",st.c).attr("stroke-width",1);
    g.append("path").attr("d", d3.symbol(SYM[st.sym], 28)())
      .attr("transform",`translate(${mx},${y}) rotate(${st.rot})`)
      .attr("fill", st.fill ? st.c : "none").attr("stroke", st.c).attr("stroke-width",1);
  }
  g.append("text").attr("x",L.t).attr("y",y).attr("dy","0.35em").text(name)
    .attr("font-family",FONT).attr("font-size","12.5px").attr("fill","#333");
}));
</script></body></html>
